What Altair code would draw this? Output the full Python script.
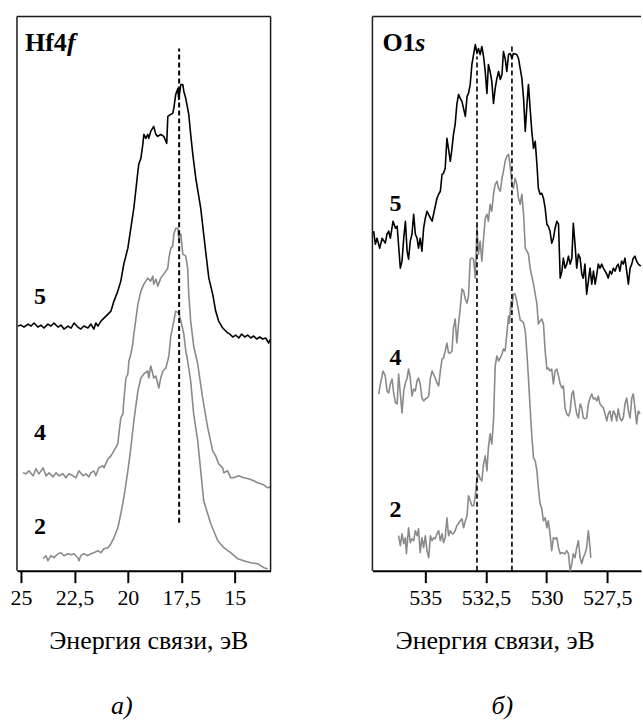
import altair as alt
import pandas as pd

FONT = "Liberation Serif"
GRAY = "#8a8a8a"

# ---------------- axes / ranges ----------------
HF_TICKS = [25, 22.5, 20, 17.5, 15]
O_TICKS = [535, 532.5, 530, 527.5]
HF_DOMAIN = [25.19, 13.32]
O_DOMAIN = [537.18, 526.11]
Y_DOMAIN = [0, 555]
CURVE_NAMES = ["5", "4", "2"]

# ---------------- Hf4f spectra (binding energy, intensity a.u.) ----------------
HF_5 = [(25.14,245),(25.00,246),(24.86,244),(24.67,247),(24.53,245),(24.39,248),(24.21,244),(24.07,246),
        (23.93,243),(23.74,247),(23.60,245),(23.46,248),(23.27,244),(23.13,246),(22.99,242),(22.80,245),
        (22.66,243),(22.52,248),(22.34,244),(22.20,242),(22.06,245),(21.87,243),(21.73,247),(21.59,242),
        (21.50,248),(21.40,245),(21.26,250),(21.12,253),(20.93,257),(20.79,260),(20.65,270),(20.47,280),
        (20.33,290),(20.19,307),(20.00,323),(19.86,343),(19.72,363),(19.53,400),(19.49,407),(19.39,413),
        (19.30,427),(19.25,437),(19.16,433),(19.07,437),(19.02,433),(18.93,440),(18.79,445),(18.69,437),
        (18.60,435),(18.46,437),(18.32,435),(18.18,428),(18.13,455),(17.99,457),(17.90,458),(17.85,463),
        (17.76,477),(17.66,483),(17.62,472),(17.52,487),(17.43,487),(17.38,480),(17.29,473),(17.15,457),
        (17.06,437),(16.96,417),(16.82,393),(16.59,363),(16.36,320),(16.21,293),(16.03,277),(15.89,260),
        (15.75,250),(15.56,243),(15.37,239),(15.23,237),(15.09,234),(14.95,236),(14.81,233),(14.67,237),
        (14.53,234),(14.39,236),(14.25,233),(14.11,235),(13.97,232),(13.83,234),(13.69,232),(13.55,233),
        (13.41,228),(13.32,232)]

HF_4 = [(24.91,98),(24.77,97),(24.63,100),(24.44,95),(24.30,102),(24.16,97),(23.97,103),(23.83,95),
        (23.69,98),(23.50,94),(23.36,98),(23.22,95),(23.04,97),(22.90,93),(22.76,97),(22.57,95),
        (22.43,93),(22.29,100),(22.10,95),(21.96,97),(21.82,94),(21.73,98),(21.59,100),(21.50,95),
        (21.36,103),(21.17,105),(21.12,103),(20.93,112),(20.79,115),(20.65,120),(20.47,127),(20.42,137),
        (20.33,153),(20.23,157),(20.19,170),(20.09,193),(20.00,197),(19.95,210),(19.86,217),(19.77,227),
        (19.72,237),(19.53,267),(19.39,280),(19.25,287),(19.07,293),(18.93,290),(18.83,295),(18.79,287),
        (18.69,292),(18.60,285),(18.46,293),(18.32,297),(18.13,303),(18.08,313),(17.99,323),(17.90,325),
        (17.85,337),(17.76,343),(17.66,343),(17.62,333),(17.52,337),(17.43,317),(17.29,315),(17.20,303),
        (17.15,277),(17.06,250),(16.92,225),(16.73,207),(16.50,173),(16.26,143),(16.03,120),(15.89,115),
        (15.75,107),(15.56,103),(15.51,98),(15.33,100),(15.19,93),(15.05,93),(14.81,95),(14.58,93),
        (14.35,92),(14.11,90),(13.93,88),(13.79,87),(13.64,86),(13.46,83),(13.32,84)]

HF_2 = [(23.97,12),(23.83,15),(23.74,10),(23.60,15),(23.46,13),(23.27,17),(23.13,18),(22.99,15),
        (22.80,17),(22.66,16),(22.52,17),(22.34,13),(22.29,10),(22.20,15),(22.06,17),(21.87,15),
        (21.73,17),(21.59,18),(21.40,20),(21.26,18),(21.12,22),(20.93,23),(20.79,27),(20.65,33),
        (20.47,43),(20.33,57),(20.19,73),(20.00,100),(19.86,123),(19.72,150),(19.53,180),(19.39,193),
        (19.25,197),(19.07,200),(19.02,193),(18.93,205),(18.83,197),(18.79,193),(18.69,195),(18.55,183),
        (18.46,193),(18.36,200),(18.22,203),(18.08,215),(17.99,235),(17.85,250),(17.76,260),(17.62,258),
        (17.52,250),(17.43,242),(17.38,237),(17.29,220),(17.20,210),(17.06,190),(16.92,157),(16.73,130),
        (16.59,100),(16.45,70),(16.12,47),(15.79,30),(15.51,23),(15.19,18),(14.86,12),(14.58,10),
        (14.25,8),(13.93,7),(13.64,3),(13.46,2)]

# ---------------- O1s spectra ----------------
O_5 = [(537.13,340),(537.06,327),(536.99,333),(536.88,323),(536.78,333),(536.65,328),(536.58,337),(536.51,340),
       (536.44,333),(536.33,350),(536.23,343),(536.16,345),(536.03,303),(535.96,310),(535.89,333),(535.82,350),
       (535.75,320),(535.69,312),(535.62,330),(535.55,337),(535.48,357),(535.41,337),(535.34,333),(535.28,323),
       (535.21,333),(535.14,320),(535.07,343),(535.00,353),(534.93,360),(534.79,353),(534.72,350),(534.66,357),
       (534.59,365),(534.52,373),(534.45,377),(534.38,380),(534.31,397),(534.25,398),(534.18,403),(534.11,433),
       (534.04,422),(533.97,410),(533.90,423),(533.84,437),(533.77,447),(533.70,467),(533.63,477),(533.56,473),
       (533.49,470),(533.35,455),(533.28,475),(533.22,478),(533.15,487),(533.08,507),(533.01,517),(532.94,527),
       (532.87,518),(532.81,523),(532.74,517),(532.67,525),(532.60,515),(532.53,500),(532.46,478),(532.40,507),
       (532.33,500),(532.26,490),(532.19,468),(532.12,483),(532.05,493),(531.98,500),(531.91,492),(531.84,497),
       (531.78,520),(531.71,513),(531.64,500),(531.57,517),(531.50,518),(531.43,513),(531.37,518),(531.23,517),
       (531.16,513),(531.09,503),(531.02,493),(530.95,473),(530.88,440),(530.81,467),(530.75,487),(530.68,463),
       (530.61,440),(530.54,423),(530.47,430),(530.40,407),(530.34,383),(530.27,377),(530.20,378),(530.13,373),
       (530.06,363),(529.99,347),(529.93,345),(529.86,340),(529.79,328),(529.72,333),(529.65,343),(529.58,350),
       (529.51,347),(529.44,293),(529.37,300),(529.31,313),(529.24,303),(529.17,307),(529.10,315),(529.03,307),
       (528.96,313),(528.90,348),(528.83,327),(528.76,303),(528.69,317),(528.62,313),(528.55,297),(528.49,293),
       (528.42,307),(528.35,277),(528.28,290),(528.21,303),(528.14,287),(528.07,300),(528.00,287),(527.93,297),
       (527.87,307),(527.80,303),(527.73,307),(527.66,303),(527.59,300),(527.52,297),(527.46,293),(527.39,300),
       (527.32,297),(527.25,303),(527.18,300),(527.11,305),(527.05,307),(526.98,300),(526.91,310),(526.84,307),
       (526.77,313),(526.70,300),(526.63,287),(526.56,303),(526.49,307),(526.43,313),(526.36,315),(526.29,310),
       (526.22,307),(526.12,305)]

O_4 = [(536.92,177),(536.85,187),(536.74,200),(536.65,195),(536.58,180),(536.51,178),(536.44,187),(536.37,192),
       (536.30,177),(536.23,168),(536.16,167),(536.10,197),(536.03,177),(535.96,158),(535.89,180),(535.82,188),
       (535.75,193),(535.69,202),(535.62,193),(535.55,175),(535.48,182),(535.41,180),(535.34,190),(535.28,193),
       (535.21,187),(535.14,173),(535.07,170),(535.00,172),(534.93,173),(534.86,175),(534.79,193),(534.72,200),
       (534.66,197),(534.59,193),(534.52,188),(534.45,185),(534.38,200),(534.31,212),(534.25,213),(534.18,220),
       (534.11,228),(534.04,218),(533.97,218),(533.90,220),(533.84,243),(533.77,252),(533.70,228),(533.63,247),
       (533.56,263),(533.49,282),(533.42,280),(533.35,272),(533.28,268),(533.22,275),(533.15,312),(533.08,313),
       (533.01,312),(532.94,293),(532.87,345),(532.81,317),(532.74,330),(532.67,310),(532.60,333),(532.53,353),
       (532.46,357),(532.40,350),(532.33,367),(532.26,360),(532.19,377),(532.12,387),(532.05,390),(531.98,383),
       (531.91,380),(531.84,393),(531.78,400),(531.71,410),(531.64,415),(531.57,417),(531.50,405),(531.43,387),
       (531.37,383),(531.30,393),(531.23,387),(531.16,373),(531.09,367),(531.02,377),(530.95,357),(530.88,323),
       (530.81,320),(530.75,317),(530.68,303),(530.54,287),(530.40,267),(530.34,247),(530.27,250),(530.20,252),
       (530.13,247),(530.06,220),(529.99,202),(529.93,203),(529.86,200),(529.79,202),(529.72,187),(529.65,200),
       (529.58,202),(529.51,195),(529.44,187),(529.37,183),(529.31,185),(529.24,163),(529.17,157),(529.10,155),
       (529.03,160),(528.96,177),(528.90,180),(528.83,167),(528.76,157),(528.69,153),(528.62,167),(528.55,163),
       (528.49,153),(528.42,152),(528.35,153),(528.28,167),(528.21,173),(528.14,177),(528.07,172),(528.00,173),
       (527.93,170),(527.87,175),(527.80,167),(527.73,165),(527.66,163),(527.59,157),(527.52,150),(527.46,157),
       (527.39,160),(527.32,150),(527.25,160),(527.18,157),(527.11,150),(527.05,162),(526.98,153),(526.91,150),
       (526.84,153),(526.77,167),(526.70,173),(526.63,160),(526.56,153),(526.49,173),(526.43,177),(526.36,163),
       (526.29,147),(526.22,160),(526.15,157)]

O_2 = [(536.10,35),(536.03,25),(535.96,37),(535.89,27),(535.82,33),(535.78,17),(535.69,43),(535.62,28),
       (535.55,32),(535.48,30),(535.41,40),(535.34,35),(535.28,42),(535.21,18),(535.14,33),(535.07,23),
       (535.00,35),(534.93,20),(534.86,13),(534.79,35),(534.72,30),(534.66,33),(534.59,32),(534.52,37),
       (534.45,40),(534.38,30),(534.31,37),(534.25,28),(534.18,33),(534.11,53),(534.04,35),(533.97,40),
       (533.90,37),(533.84,37),(533.77,40),(533.70,45),(533.56,50),(533.49,52),(533.42,43),(533.35,50),
       (533.28,55),(533.22,75),(533.15,70),(533.08,65),(533.01,65),(532.94,75),(532.87,93),(532.81,97),
       (532.74,92),(532.67,90),(532.60,107),(532.53,115),(532.46,100),(532.40,123),(532.33,137),(532.26,127),
       (532.19,150),(532.12,205),(532.05,215),(531.98,210),(531.91,213),(531.84,217),(531.78,222),(531.71,220),
       (531.64,237),(531.57,255),(531.53,248),(531.47,270),(531.43,263),(531.37,277),(531.30,277),(531.23,270),
       (531.16,261),(531.09,251),(531.02,250),(530.95,248),(530.88,240),(530.81,217),(530.75,193),(530.68,163),
       (530.61,135),(530.54,113),(530.47,110),(530.40,100),(530.34,83),(530.27,67),(530.20,62),(530.13,50),
       (530.06,53),(529.99,43),(529.93,50),(529.86,37),(529.79,20),(529.72,33),(529.65,32),(529.58,33),
       (529.51,23),(529.44,17),(529.37,18),(529.24,17),(529.17,20),(529.10,17),(529.03,0),(528.96,7),
       (528.90,17),(528.83,13),(528.76,23),(528.69,30),(528.62,13),(528.55,7),(528.49,13),(528.42,17),
       (528.35,23),(528.28,40),(528.21,23),(528.18,13)]

# dashed reference lines: energy, lower and upper intensity
HF_PEAK_E = [17.6]
HF_PEAK_LO = [48]
HF_PEAK_HI = [523]
O_PEAK_E = [532.87, 531.43]
O_PEAK_LO = [0, 0]
O_PEAK_HI = [515, 525]

# curve number labels (energy, intensity)
HF_LABEL_E = [24.11, 24.11, 24.11]
HF_LABEL_I = [274, 138, 44]
O_LABEL_E = [536.23, 536.23, 536.23]
O_LABEL_I = [367, 213, 61]

AXIS_TITLE = "Энергия связи, эВ"


def series_df(pairs, name):
    return pd.DataFrame({"E": [p[0] for p in pairs], "I": [p[1] for p in pairs], "curve": name})


def panel(curves, xdomain, ticks, W, peak_e, peak_lo, peak_hi, dash_w,
          lab_e, lab_i, t_main, t_ital, t_x, t_ital_x, axis_x, cap, cap_x, right_border):
    H = 555
    xs = alt.Scale(domain=xdomain, nice=False, zero=False)
    ys = alt.Scale(domain=Y_DOMAIN, nice=False, zero=False)
    xaxis = alt.Axis(values=ticks, format=".1~f",
                     labelExpr="replace(datum.label, '.', ',')",
                     grid=False, labelFlush=False, labelOverlap=False)
    df = pd.concat([series_df(p, n) for n, p in curves], ignore_index=True)

    lines = alt.Chart(df).mark_line(strokeWidth=1.6, strokeJoin="round").encode(
        x=alt.X("E:Q", scale=xs, axis=xaxis, title=None),
        y=alt.Y("I:Q", scale=ys, axis=None),
        color=alt.Color("curve:N", scale=alt.Scale(domain=CURVE_NAMES, range=["#000000", GRAY, GRAY]),
                        legend=None),
        detail="curve:N",
    )

    peaks = alt.Chart(pd.DataFrame({"E": peak_e, "lo": peak_lo, "hi": peak_hi})).mark_rule(
        color="black", strokeDash=[5, 3], strokeWidth=dash_w
    ).encode(
        x=alt.X("E:Q", scale=xs, title=None),
        y=alt.Y("lo:Q", scale=ys, axis=None),
        y2="hi:Q",
    )

    labels = alt.Chart(pd.DataFrame({"E": lab_e, "I": lab_i, "t": CURVE_NAMES})).mark_text(
        font=FONT, fontSize=24, fontWeight="bold", color="black", align="center", baseline="middle"
    ).encode(
        x=alt.X("E:Q", scale=xs, title=None),
        y=alt.Y("I:Q", scale=ys, axis=None),
        text="t:N",
    )

    one = pd.DataFrame({"k": [0]})
    frame = [
        alt.Chart(one).mark_rule(color="#1a1a1a", strokeWidth=1.5).encode(
            x=alt.value(0), x2=alt.value(W), y=alt.value(0)),
        alt.Chart(one).mark_rule(color="#1a1a1a", strokeWidth=1.5).encode(
            x=alt.value(0), y=alt.value(0), y2=alt.value(H)),
    ]
    if right_border:
        frame.append(alt.Chart(one).mark_rule(color="#1a1a1a", strokeWidth=1.5).encode(
            x=alt.value(W), y=alt.value(0), y2=alt.value(H)))

    title_main = alt.Chart(pd.DataFrame({"t": [t_main]})).mark_text(
        font=FONT, fontSize=26, fontWeight="bold", color="black", align="left", baseline="alphabetic"
    ).encode(x=alt.value(t_x), y=alt.value(35), text="t:N")
    title_ital = alt.Chart(pd.DataFrame({"t": [t_ital]})).mark_text(
        font=FONT, fontSize=26, fontWeight="bold", fontStyle="italic", color="black",
        align="left", baseline="alphabetic"
    ).encode(x=alt.value(t_ital_x), y=alt.value(35), text="t:N")

    axis_title = alt.Chart(pd.DataFrame({"t": [AXIS_TITLE]})).mark_text(
        font=FONT, fontSize=26, color="black", align="center", baseline="alphabetic"
    ).encode(x=alt.value(axis_x), y=alt.value(H + 78), text="t:N")

    caption = alt.Chart(pd.DataFrame({"t": [cap]})).mark_text(
        font=FONT, fontSize=26, fontStyle="italic", color="black", align="center", baseline="alphabetic"
    ).encode(x=alt.value(cap_x), y=alt.value(H + 144), text="t:N")

    return alt.layer(lines, peaks, labels, *frame, title_main, title_ital, axis_title, caption).properties(
        width=W, height=H)


left = panel([("5", HF_5), ("4", HF_4), ("2", HF_2)], HF_DOMAIN, HF_TICKS, 254,
             HF_PEAK_E, HF_PEAK_LO, HF_PEAK_HI, 2.0,
             HF_LABEL_E, HF_LABEL_I, "Hf4", "f", 8, 50, 132, "а)", 105, True)
right = panel([("5", O_5), ("4", O_4), ("2", O_2)], O_DOMAIN, O_TICKS, 269,
              O_PEAK_E, O_PEAK_LO, O_PEAK_HI, 1.6,
              O_LABEL_E, O_LABEL_I, "O1", "s", 10, 43, 123, "б)", 130, False)

chart = alt.hconcat(left, right, spacing=102, bounds="flush").properties(
    padding={"left": 9, "top": 14, "right": 0, "bottom": 0}
).configure_view(
    stroke="transparent"
).configure_axis(
    labelFont=FONT, labelFontSize=22, labelColor="black",
    tickColor="black", tickWidth=2, tickSize=12,
    domainColor="black", domainWidth=2, labelPadding=5,
)

chart.save("out.html", embed_options={"renderer": "svg", "actions": False})
